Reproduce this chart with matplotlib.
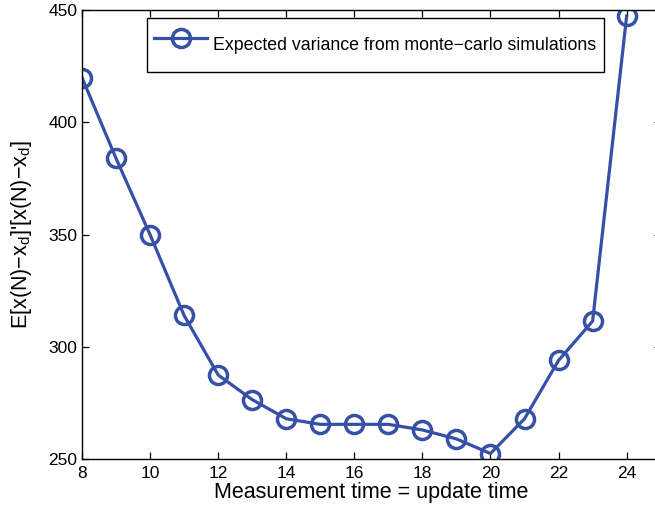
import matplotlib
matplotlib.use("Agg")
import matplotlib.pyplot as plt

plt.rcParams["font.family"] = ["Liberation Sans", "DejaVu Sans"]
plt.rcParams["mathtext.fontset"] = "custom"
plt.rcParams["mathtext.rm"] = "Liberation Sans"
plt.rcParams["mathtext.it"] = "Liberation Sans"

meas_time = [8, 9, 10, 11, 12, 13, 14, 15, 16, 17, 18, 19, 20, 21, 22, 23, 24]
exp_var = [420, 384, 350, 314, 287.5, 276.5, 268, 265.5, 265.5, 265.5, 263, 259, 252.5, 268, 294, 311.5, 447.5]

blue = "#3550a5"

fig = plt.figure(figsize=(6.55, 5.13), dpi=100)
ax = fig.add_axes([0.1252, 0.105, 0.8835, 0.875])
ax.plot(meas_time, exp_var, "-o", color=blue, lw=2.3, ms=13, mew=2.5,
        mfc="none", mec=blue, label="Expected variance from monte\u2212carlo simulations")

ax.set_xlim(8, 25)
ax.set_ylim(250, 450)
ax.set_xticks(range(8, 25, 2))
ax.set_yticks(range(250, 451, 50))
ax.tick_params(direction="in", top=True, right=True, labelsize=12.5, length=5, width=0.9)
ax.tick_params(axis="x", pad=5)
for s in ax.spines.values():
    s.set_linewidth(1.0)

ax.set_xlabel("Measurement time = update time", fontsize=15.5, labelpad=1)
ax.set_ylabel("E[x(N)\u2212x$_d$]'[x(N)\u2212x$_d$]", fontsize=15.5, labelpad=10.5)

leg = ax.legend(loc="upper left", bbox_to_anchor=(0.112, 0.983), borderaxespad=0,
                fontsize=12.8, fancybox=False, framealpha=1, edgecolor="black",
                borderpad=0.4, handlelength=3.0, handleheight=3.1, handletextpad=0.35)
leg.get_frame().set_linewidth(1.0)

fig.savefig("out.png", dpi=100)
